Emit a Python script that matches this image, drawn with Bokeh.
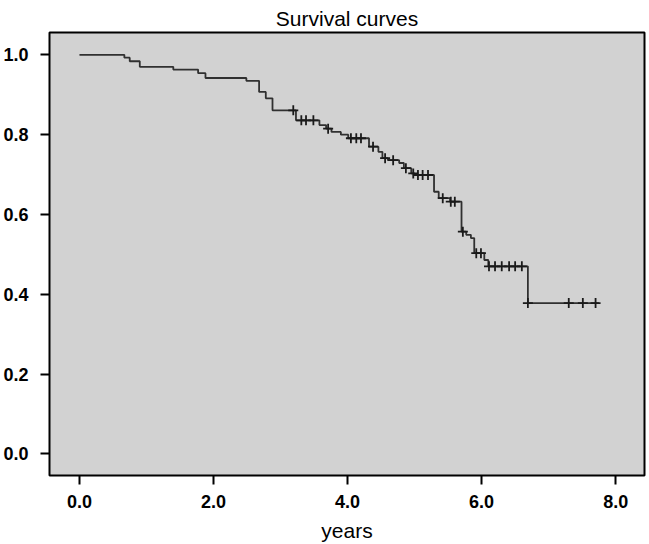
import numpy as np
from bokeh.plotting import figure
from bokeh.models import Range1d, FixedTicker
from bokeh.embed import file_html
from bokeh.resources import INLINE

# Kaplan-Meier step data (time in years, survival after the step)
step_times = [0.0, 0.67, 0.75, 0.90, 1.40, 1.77, 1.88, 2.49, 2.68, 2.78, 2.88,
              3.23, 3.58, 3.68, 3.76, 3.90, 4.01, 4.32, 4.46, 4.52, 4.60, 4.77,
              4.84, 4.95, 5.00, 5.29, 5.36, 5.53, 5.70, 5.77, 5.84, 5.89, 6.04,
              6.10, 6.69]
step_surv = [1.0, 0.993, 0.984, 0.970, 0.963, 0.954, 0.942, 0.935, 0.907, 0.891,
             0.861, 0.836, 0.824, 0.815, 0.807, 0.800, 0.791, 0.770, 0.757, 0.741,
             0.736, 0.729, 0.716, 0.703, 0.699, 0.657, 0.641, 0.632, 0.557, 0.549,
             0.541, 0.503, 0.486, 0.470, 0.378]
end_time = 7.75

# censored observations (time in years)
censor_times = [3.19, 3.31, 3.38, 3.49, 3.71, 4.05, 4.13, 4.20, 4.38, 4.56, 4.68,
                4.87, 4.98, 5.05, 5.12, 5.20, 5.42, 5.54, 5.60, 5.72, 5.92, 5.99,
                6.11, 6.20, 6.30, 6.41, 6.50, 6.60, 6.69, 7.30, 7.51, 7.70]

x_ticks = [0, 2, 4, 6, 8]
x_tick_labels = ["0.0", "2.0", "4.0", "6.0", "8.0"]
y_ticks = [0.0, 0.2, 0.4, 0.6, 0.8, 1.0]
y_tick_labels = ["0.0", "0.2", "0.4", "0.6", "0.8", "1.0"]

line_x = step_times + [end_time]
line_y = step_surv + [step_surv[-1]]
idx = np.searchsorted(np.array(step_times), np.array(censor_times), side="right") - 1
censor_surv = [step_surv[i] for i in idx]

p = figure(width=649, height=544, output_backend="svg", toolbar_location=None,
           x_range=Range1d(-0.447, 8.43), y_range=Range1d(-0.054, 1.056),
           min_border_left=48, min_border_right=5, min_border_top=32,
           min_border_bottom=68)

p.title.text = "Survival curves"
p.title.align = "center"
p.title.text_font = "Liberation Sans"
p.title.text_font_size = "21px"
p.title.text_font_style = "normal"
p.title.text_color = "black"
p.title.standoff = 6

p.background_fill_color = "#d2d2d2"
p.border_fill_color = "white"
p.outline_line_color = "black"
p.outline_line_width = 2
p.grid.visible = False

p.step(line_x, line_y, mode="after", line_color="#303030", line_width=1.8)
p.scatter(censor_times, censor_surv, marker="cross", size=10,
          line_color="#1a1a1a", line_width=1.8)

for ax, ticks, labels in ((p.xaxis[0], x_ticks, x_tick_labels),
                          (p.yaxis[0], y_ticks, y_tick_labels)):
    ax.ticker = FixedTicker(ticks=ticks)
    ax.major_label_overrides = {t: l for t, l in zip(ticks, labels)}
    ax.axis_line_color = None
    ax.major_tick_in = 0
    ax.major_tick_out = 9
    ax.major_tick_line_width = 2
    ax.major_tick_line_color = "black"
    ax.minor_tick_line_color = None
    ax.major_label_text_font = "Liberation Sans"
    ax.major_label_text_font_size = "18px"
    ax.major_label_text_font_style = "bold"
    ax.major_label_text_color = "black"

p.xaxis.major_label_standoff = 10
p.yaxis.major_label_standoff = 12

p.xaxis.axis_label = "years"
p.xaxis.axis_label_text_font = "Liberation Sans"
p.xaxis.axis_label_text_font_size = "21px"
p.xaxis.axis_label_text_font_style = "normal"
p.xaxis.axis_label_text_color = "black"
p.xaxis.axis_label_standoff = 8

open("out.html", "w").write(file_html(p, INLINE))
